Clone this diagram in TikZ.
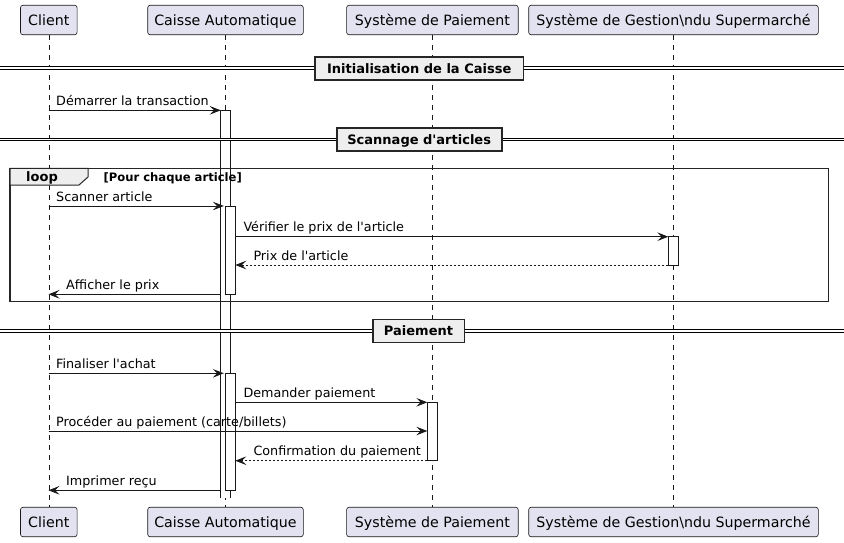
\documentclass[tikz,border=0pt]{standalone}
\usepackage{fontspec}
\setmainfont{DejaVu Sans}[Ligatures=TeXOff]
\usetikzlibrary{arrows.meta}
\definecolor{lineC}{HTML}{181818}
\definecolor{partfill}{HTML}{E2E2F0}
\definecolor{grpfill}{HTML}{EEEEEE}
\newcommand{\fsz}[1]{\fontsize{#1}{#1}\selectfont}
\begin{document}
\begin{tikzpicture}[x=1pt,y=-1pt,
 part/.style={draw=lineC, fill=partfill, rounded corners=2.5pt, line width=0.6pt, minimum height=29.5pt, inner sep=0pt, text height=10.5pt, text depth=0pt, font=\fsz{14.2}},
 life/.style={draw=lineC, line width=0.5pt, dash pattern=on 5pt off 5pt},
 act/.style={draw=lineC, fill=white, line width=0.7pt},
 msg/.style={draw=lineC, line width=0.85pt, -{Stealth[length=11pt,width=8.6pt,inset=4.4pt]}},
 ret/.style={msg, dash pattern=on 2pt off 2pt},
 lbl/.style={font=\fsz{12.75}, anchor=base west, inner sep=0pt},
 divbox/.style={draw=black!85, fill=grpfill, line width=1.6pt, inner sep=0pt, minimum height=23pt, text height=9.5pt, text depth=0pt, font=\bfseries\fsz{13}},
 dline/.style={draw=black, double=white, double distance=1.8pt, line width=0.9pt},
 loopframe/.style={draw=black!85, line width=1.5pt},
 looptab/.style={draw=black!85, fill=grpfill, line width=1pt},
]
\useasboundingbox (0,0) rectangle (844,542);

% participants
\node[part, minimum width=56.6pt]  (pC) at (48.8,20) {Client};
\node[part, minimum width=155.6pt] (pK) at (225.5,20) {Caisse Automatique};
\node[part, minimum width=171.6pt] (pP) at (432.4,20) {Système de Paiement};
\node[part, minimum width=289.6pt] (pG) at (673.5,20) {Système de Gestion\textbackslash ndu Supermarché};
\node[part, minimum width=56.6pt]  (bC) at (48.8,522) {Client};
\node[part, minimum width=155.6pt] (bK) at (225.5,522) {Caisse Automatique};
\node[part, minimum width=171.6pt] (bP) at (432.4,522) {Système de Paiement};
\node[part, minimum width=289.6pt] (bG) at (673.5,522) {Système de Gestion\textbackslash ndu Supermarché};

% lifelines
\draw[life] (pC) -- (bC);
\draw[life] (pK) -- (bK);
\draw[life] (pP) -- (bP);
\draw[life] (pG) -- (bG);

% activations
\fill[white] (220.7,110.3) rectangle (230.3,497.7);
\draw[lineC, line width=0.7pt] (220.7,497.7) -- (220.7,110.3) -- (230.3,110.3) -- (230.3,497.7);
\path[act] (225.3,206) rectangle (235.3,294.3);
\path[act] (668.3,236.7) rectangle (678.3,265);
\path[act] (225.3,373.3) rectangle (235.3,490.3);
\path[act] (427.3,402.3) rectangle (437.3,460.7);

% loop frame
\draw[loopframe] (10,168.3) rectangle (828.5,301.7);
\path[looptab] (10,168.3) -- (88,168.3) -- (88,177) -- (79,185) -- (10,185) -- cycle;
\node[font=\bfseries\fsz{13}, anchor=base west, inner sep=0pt] (lp) at (26,181.5) {loop};
\node[font=\bfseries\fsz{11.6}, anchor=base west, inner sep=0pt] (lg) at (103.3,181.5) {[Pour chaque article]};

% dividers
\coordinate (L1) at (0,68); \coordinate (R1) at (844,68);
\node[divbox, minimum width=208.3pt] (d1) at (419.2,68.3) {Initialisation de la Caisse};
\draw[dline] (L1) -- (L1 -| d1.west);
\draw[dline] (R1) -- (R1 -| d1.east);
\coordinate (L2) at (0,139.5); \coordinate (R2) at (844,139.5);
\node[divbox, minimum width=165pt] (d2) at (419.2,139.7) {Scannage d\char"27 articles};
\draw[dline] (L2) -- (L2 -| d2.west);
\draw[dline] (R2) -- (R2 -| d2.east);
\coordinate (L3) at (0,331); \coordinate (R3) at (844,331);
\node[divbox, minimum width=91.6pt] (d3) at (418.5,330.8) {Paiement};
\draw[dline] (L3) -- (L3 -| d3.west);
\draw[dline] (R3) -- (R3 -| d3.east);

% messages
\coordinate (m1a) at (48.5,110.3);  \coordinate (m1b) at (220.7,110.3);
\draw[msg] (m1a) -- (m1b);
\node[lbl] (t1) at (56,105.3) {Démarrer la transaction};

\coordinate (m2a) at (48.5,206);  \coordinate (m2b) at (223.8,206);
\draw[msg] (m2a) -- (m2b);
\node[lbl] (t2) at (56,201) {Scanner article};

\coordinate (m3a) at (235.3,236.7);  \coordinate (m3b) at (668.3,236.7);
\draw[msg] (m3a) -- (m3b);
\node[lbl] (t3) at (243.3,231.7) {Vérifier le prix de l\char"27 article};

\coordinate (m4a) at (668.3,265);  \coordinate (m4b) at (235.3,265);
\draw[ret] (m4a) -- (m4b);
\node[lbl] (t4) at (253.3,260) {Prix de l\char"27 article};

\coordinate (m5a) at (220.7,294.3);  \coordinate (m5b) at (48.5,294.3);
\draw[msg] (m5a) -- (m5b);
\node[lbl] (t5) at (66,289.3) {Afficher le prix};

\coordinate (m6a) at (48.5,373.3);  \coordinate (m6b) at (223.8,373.3);
\draw[msg] (m6a) -- (m6b);
\node[lbl] (t6) at (56,368.3) {Finaliser l\char"27 achat};

\coordinate (m7a) at (235.3,402.3);  \coordinate (m7b) at (427.3,402.3);
\draw[msg] (m7a) -- (m7b);
\node[lbl] (t7) at (243.3,397.3) {Demander paiement};

\coordinate (m8a) at (48.5,431);  \coordinate (m8b) at (427.3,431);
\draw[msg] (m8a) -- (m8b);
\node[lbl] (t8) at (56,426) {Procéder au paiement (carte/billets)};

\coordinate (m9a) at (427.3,460.7);  \coordinate (m9b) at (235.3,460.7);
\draw[ret] (m9a) -- (m9b);
\node[lbl] (t9) at (253.3,455.7) {Confirmation du paiement};

\coordinate (m10a) at (220.7,490.3);  \coordinate (m10b) at (48.5,490.3);
\draw[msg] (m10a) -- (m10b);
\node[lbl] (t10) at (66,485.3) {Imprimer reçu};
\end{tikzpicture}
\end{document}
